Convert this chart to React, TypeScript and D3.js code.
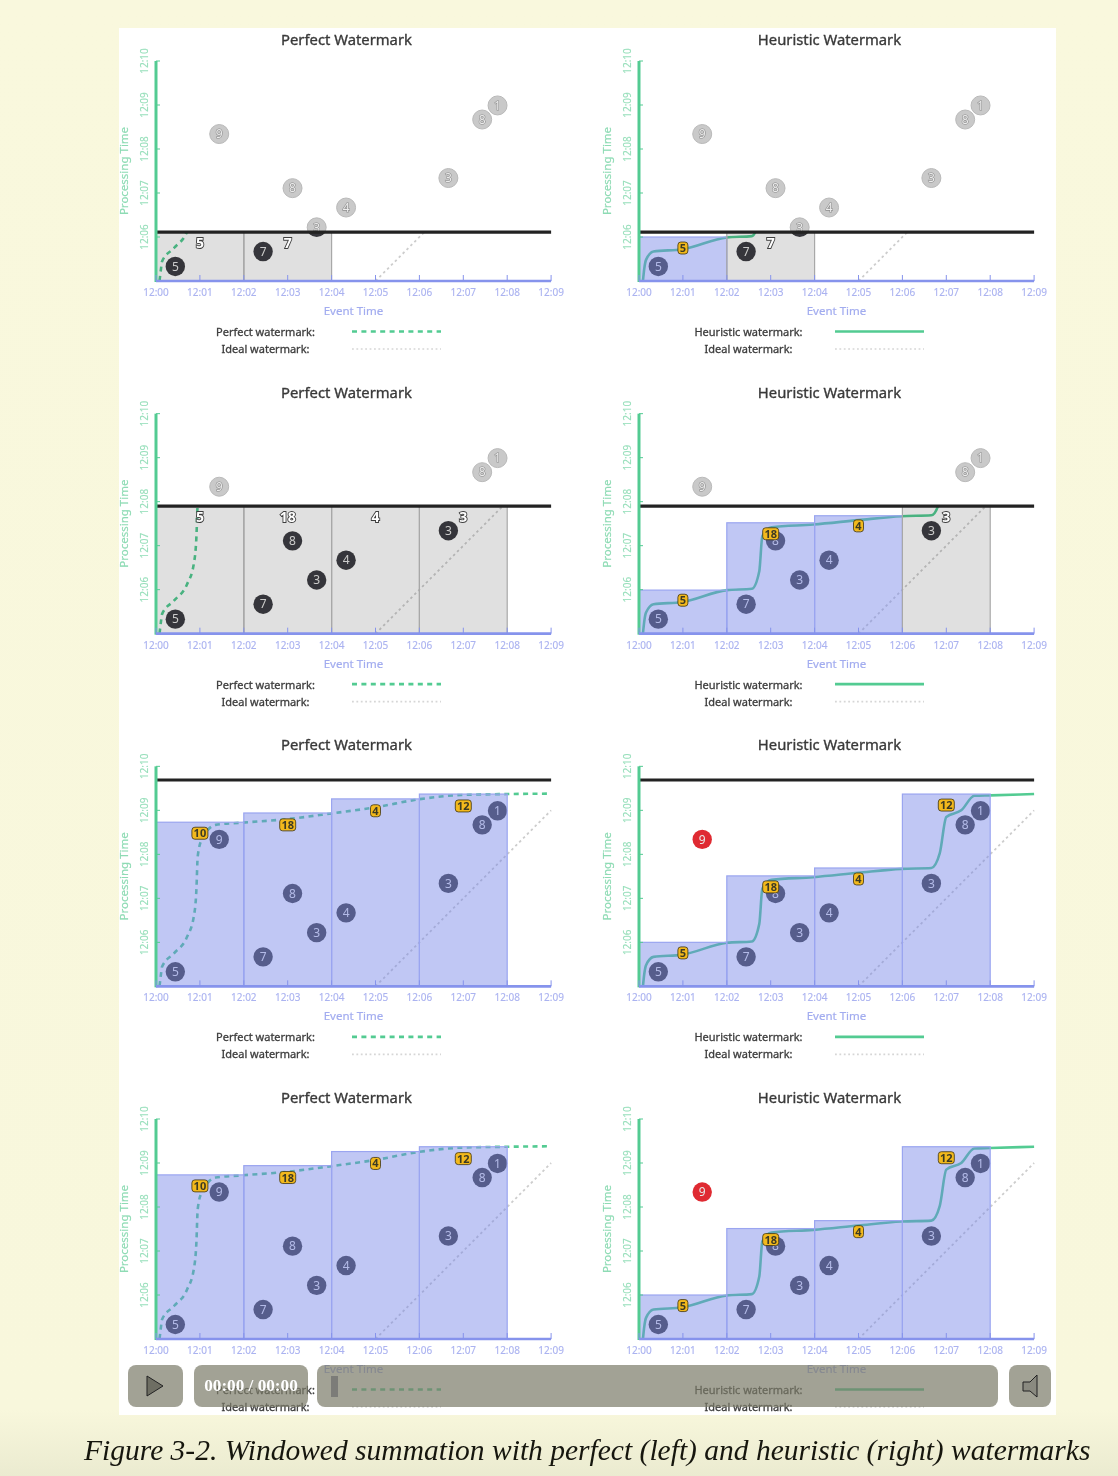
import React from "react";
import * as d3 from "d3";

// ---- data (minutes after 12:00 on the event axis; minutes after 12:05 on the processing axis)
const xTickLabels = ["12:00","12:01","12:02","12:03","12:04","12:05","12:06","12:07","12:08","12:09"];
const yTickLabels = ["12:06","12:07","12:08","12:09","12:10"];
const pointText  = ["5","9","7","8","3","4","3","8","1"];
const pointEvent = [0.44,1.44,2.44,3.11,3.66,4.33,6.66,7.43,7.78];
const pointProc  = [0.33,3.34,0.67,2.11,1.22,1.67,2.34,3.67,3.99];

const perfectE = [0.08,0.11,0.14,0.41,0.71,0.86,0.92,0.95,1.04,1.36,1.96,2.98,4,5,5.98,6.96,8,9];
const perfectP = [0,0.25,0.45,0.75,1.13,1.58,2.19,2.95,3.33,3.67,3.72,3.8,3.93,4.07,4.25,4.35,4.37,4.38];
const heurE = [0.09,0.12,0.16,0.33,0.99,2,2.57,2.74,2.81,3.02,3.97,4.99,5.98,6.66,6.85,7,7.34,7.64,8,9];
const heurP = [0,0.28,0.48,0.67,0.72,0.99,1.02,1.42,2.22,2.42,2.48,2.58,2.67,2.69,3.02,3.85,4,4.33,4.34,4.37];
const idealE = [5,9];
const idealP = [0,4];

const rowProgress = [1.11,2.9,4.69,null];
const windowStart = [0,2,4,6];
// number = fired pane top, "g" = pending (grey, up to the progress line), null = not yet shown
const perfectPanes = [
  ["g","g",null,null],["g","g","g","g"],[3.73,3.94,4.26,4.37],[3.73,3.94,4.26,4.37],
];
const heurPanes = [
  [1,"g",null,null],[0.99,2.52,2.68,"g"],[1,2.51,2.69,4.37],[1,2.51,2.69,4.37],
];
const perfectSumText = [["5","7"],["5","18","4","3"],["10","18","4","12"],["10","18","4","12"]];
const perfectSumE = [[1,3],[1,3,5,7],[1,3,5,7],[1,3,5,7]];
const perfectSumP = [[0.86,0.86],[2.65,2.65,2.65,2.65],[3.48,3.67,3.99,4.1],[3.48,3.67,3.99,4.1]];
const perfectSumFired = [[0,0],[0,0,0,0],[1,1,1,1],[1,1,1,1]];
const heurSumText = [["5","7"],["5","18","4","3"],["5","18","4","12"],["5","18","4","12"]];
const heurSumE = perfectSumE;
const heurSumP = [[0.75,0.86],[0.76,2.27,2.45,2.65],[0.76,2.26,2.44,4.12],[0.76,2.26,2.44,4.12]];
const heurSumFired = [[1,0],[1,1,1,0],[1,1,1,1],[1,1,1,1]];

const FONT = "'Noto Sans', sans-serif";
const ROW0 = 281, ROW_STEP = 352.67, PX_MIN_X = 43.9, PX_MIN_Y = 44;
const GREEN = "#52cb92", BLUE = "#8693ec";

function Panel({ kind, row }: { kind: "perfect" | "heuristic"; row: number }) {
  const perfect = kind === "perfect";
  const x0 = perfect ? 156 : 639;
  const base = ROW0 + ROW_STEP * row;
  const x = d3.scaleLinear().domain([0, 9]).range([x0, x0 + 9 * PX_MIN_X]);
  const y = d3.scaleLinear().domain([0, 5]).range([base, base - 5 * PX_MIN_Y]);
  const progress = rowProgress[row];
  const ceil = progress ?? 5;
  const panes = (perfect ? perfectPanes : heurPanes)[row];
  const id = `${kind}${row}`;
  const wmE = perfect ? perfectE : heurE;
  const wmP = perfect ? perfectP : heurP;
  const wmLine = d3.line<number>().x((d) => x(d)).y((_, i) => y(wmP[i])).curve(d3.curveMonotoneX);
  const idealLine = d3.line<number>().x((d) => x(d)).y((_, i) => y(idealP[i]));
  const sumText = (perfect ? perfectSumText : heurSumText)[row];
  const sumE = (perfect ? perfectSumE : heurSumE)[row];
  const sumP = (perfect ? perfectSumP : heurSumP)[row];
  const sumFired = (perfect ? perfectSumFired : heurSumFired)[row];
  const cx = x0 + 190.5;
  const legendX = x0 + 109.5;
  const lx1 = x0 + 196, lx2 = x0 + 285;
  const isLate = (i: number) => {
    const pane = panes[Math.floor(pointEvent[i] / 2)];
    return typeof pane === "number" && pointProc[i] > pane && pointProc[i] <= ceil;
  };
  return (
    <g fontFamily={FONT}>
      <defs>
        <clipPath id={`below-${id}`}>
          <rect x={x0 - 2} y={y(ceil)} width={9 * PX_MIN_X + 4} height={base - y(ceil)} />
        </clipPath>
        <clipPath id={`above-${id}`}>
          <rect x={x0 - 2} y={y(5) - 10} width={9 * PX_MIN_X + 4} height={y(ceil) - y(5) + 10} />
        </clipPath>
      </defs>

      <text x={cx} y={base - 236} textAnchor="middle" fontSize={14.8} fill="#3a3a3a" stroke="#3a3a3a" strokeWidth={0.35}>
        {perfect ? "Perfect Watermark" : "Heuristic Watermark"}
      </text>

      {pointText.map((t, i) => (
        <g key={i} textAnchor="middle" fontSize={12}>
          <g clipPath={`url(#above-${id})`}>
            <circle cx={x(pointEvent[i])} cy={y(pointProc[i])} r={9.5} fill="#c9c9c9" stroke="#b9b9b9" />
            <text x={x(pointEvent[i])} y={y(pointProc[i]) + 4.3} fill="#ececec" stroke="#8f8f8f" strokeWidth={1.2} paintOrder="stroke">{t}</text>
          </g>
          <g clipPath={`url(#below-${id})`}>
            <circle cx={x(pointEvent[i])} cy={y(pointProc[i])} r={9.7} fill={isLate(i) ? "#df2a30" : "#3e3e42"} />
            <text x={x(pointEvent[i])} y={y(pointProc[i]) + 4.3} fill="#e8e8e8">{t}</text>
          </g>
        </g>
      ))}

      <path d={idealLine(idealE) ?? ""} fill="none" stroke="#cdcdcd" strokeWidth={1.8} strokeDasharray="2.5 3" clipPath={`url(#below-${id})`} />
      <path
        d={wmLine(wmE) ?? ""}
        fill="none"
        stroke={GREEN}
        strokeWidth={2.6}
        strokeDasharray={perfect ? "5 4.4" : undefined}
        clipPath={`url(#below-${id})`}
      />

      {panes.map((pane, i) =>
        pane === null ? null : (
          <rect
            key={i}
            x={x(windowStart[i])}
            width={x(windowStart[i] + 2) - x(windowStart[i])}
            y={y(pane === "g" ? ceil : (pane as number))}
            height={base - y(pane === "g" ? ceil : (pane as number))}
            fill={pane === "g" ? "rgba(0,0,0,0.12)" : "rgba(115,131,231,0.45)"}
            stroke={pane === "g" ? "#a8a8a8" : "#9aa5f0"}
            strokeWidth={1.2}
          />
        )
      )}

      {sumText.map((t, i) => {
        const lx = x(sumE[i]), ly = y(sumP[i]);
        return sumFired[i] ? (
          <g key={i} textAnchor="middle">
            <rect x={lx - (t.length > 1 ? 8 : 5)} y={ly - 6} width={t.length > 1 ? 16 : 10} height={12} rx={3} fill="#f3b91f" stroke="#3e3410" strokeWidth={0.8} />
            <text x={lx} y={ly + 4} fontSize={11} fontWeight={700} fill="#3e3a22">{t}</text>
          </g>
        ) : (
          <text key={i} x={lx} y={ly + 5} textAnchor="middle" fontSize={14} fontWeight={700} fill="#fff" stroke="#3c3c3c" strokeWidth={1.8} paintOrder="stroke">{t}</text>
        );
      })}

      {progress !== null && (
        <line x1={x0} x2={x(9)} y1={y(progress)} y2={y(progress)} stroke="#222" strokeWidth={3.2} />
      )}

      {/* axes */}
      <line x1={x0} x2={x0} y1={y(5)} y2={base + 1} stroke={GREEN} strokeWidth={3} />
      {yTickLabels.map((t, i) => (
        <g key={t}>
          <line x1={x0} x2={x0 + 4} y1={y(i + 1)} y2={y(i + 1)} stroke={GREEN} strokeWidth={1} />
          <text transform={`translate(${x0 - 8},${y(i + 1)}) rotate(-90)`} textAnchor="middle" fontSize={10} fill="#98dfbb" stroke="#98dfbb" strokeWidth={0.15}>{t}</text>
        </g>
      ))}
      <text transform={`translate(${x0 - 28},${base - 110}) rotate(-90)`} textAnchor="middle" fontSize={11.5} fill="#8edbb4" stroke="#8edbb4" strokeWidth={0.2}>Processing Time</text>
      <line x1={x0} x2={x(9)} y1={base} y2={base} stroke={BLUE} strokeWidth={2.6} />
      {xTickLabels.map((t, i) => (
        <g key={t}>
          <line x1={x(i)} x2={x(i)} y1={base - 6} y2={base} stroke={BLUE} strokeWidth={1} />
          <text x={x(i)} y={base + 15} textAnchor="middle" fontSize={10} fill="#abb3f0" stroke="#abb3f0" strokeWidth={0.15}>{t}</text>
        </g>
      ))}
      <text x={x0 + 197.5} y={base + 34} textAnchor="middle" fontSize={11.5} fill="#a2acef" stroke="#a2acef" strokeWidth={0.2}>Event Time</text>

      {/* legend */}
      <text x={legendX} y={base + 55} textAnchor="middle" fontSize={11} fill="#3c3c3c" stroke="#3c3c3c" strokeWidth={0.3}>{perfect ? "Perfect watermark:" : "Heuristic watermark:"}</text>
      <text x={legendX} y={base + 72} textAnchor="middle" fontSize={11} fill="#3c3c3c" stroke="#3c3c3c" strokeWidth={0.3}>Ideal watermark:</text>
      <line x1={lx1} x2={lx2} y1={base + 50.5} y2={base + 50.5} stroke={GREEN} strokeWidth={2.6} strokeDasharray={perfect ? "5 4.4" : undefined} />
      <line x1={lx1} x2={lx2} y1={base + 68} y2={base + 68} stroke="#d6d6d6" strokeWidth={1.6} strokeDasharray="1.8 2.6" />
    </g>
  );
}

const CTRL = "rgba(123,123,105,0.7)";

export default function App() {
  const rows = [0, 1, 2, 3];
  return (
    <svg width={1118} height={1476} style={{ position: "absolute", left: 0, top: 0, display: "block" }}>
      <defs>
        <linearGradient id="bg" x1="0" x2="0" y1="0" y2="1">
          <stop offset="0" stopColor="#f9f8dd" />
          <stop offset="0.955" stopColor="#f8f7dc" />
          <stop offset="1" stopColor="#ebebd0" />
        </linearGradient>
        <filter id="soft" x="0" y="0" width="1118" height="1476" filterUnits="userSpaceOnUse">
          <feGaussianBlur stdDeviation="0.6" />
        </filter>
        <filter id="softer" x="0" y="0" width="1118" height="1476" filterUnits="userSpaceOnUse">
          <feGaussianBlur stdDeviation="0.3" />
        </filter>
      </defs>
      <rect width={1118} height={1476} fill="url(#bg)" />
      <rect x={119} y={28} width={937} height={1387} fill="#fff" />
      <g filter="url(#soft)">
        {rows.map((r) => <Panel key={`p${r}`} kind="perfect" row={r} />)}
        {rows.map((r) => <Panel key={`h${r}`} kind="heuristic" row={r} />)}
      </g>
      <g filter="url(#softer)">
        <rect x={128} y={1365} width={55} height={42} rx={8} fill={CTRL} />
        <path d="M147,1376 L163,1386 L147,1396 Z" fill="#6e6e64" stroke="#222" strokeWidth={1} />
        <rect x={194} y={1365} width={114} height={42} rx={8} fill={CTRL} />
        <text x={251} y={1391} textAnchor="middle" fontFamily="'Liberation Serif', serif" fontWeight={700} fontSize={17.2} fill="#fff">00:00 / 00:00</text>
        <rect x={317} y={1365} width={681} height={42} rx={8} fill={CTRL} />
        <rect x={331} y={1376} width={7} height={21} fill="#7b7b78" />
        <rect x={1009} y={1365} width={42} height={42} rx={8} fill={CTRL} />
        <path d="M1023,1382 L1030,1382 L1037,1375 L1037,1397 L1030,1391 L1023,1391 Z" fill="#8a8a80" stroke="#222" strokeWidth={1} />
        <text x={84} y={1460} fontFamily="'Liberation Serif', serif" fontStyle="italic" fontSize={29.53} fill="#151510">
          Figure 3-2. Windowed summation with perfect (left) and heuristic (right) watermarks
        </text>
      </g>
    </svg>
  );
}
